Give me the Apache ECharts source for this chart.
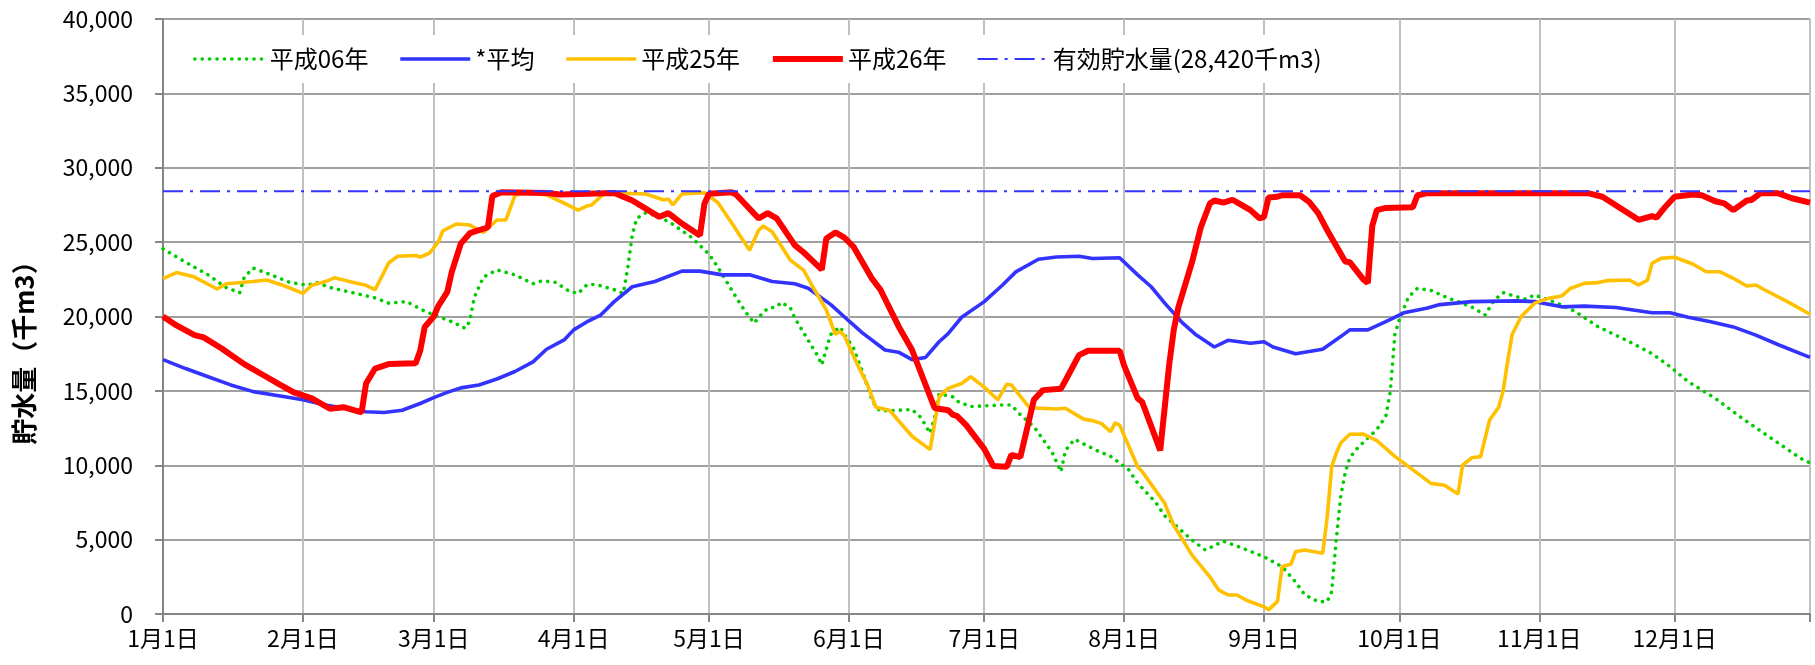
<!DOCTYPE html>
<html>
<head>
<meta charset="utf-8">
<script src="https://cdn.jsdelivr.net/npm/echarts@6/dist/echarts.min.js"></script>
<style>
  html, body { margin: 0; padding: 0; background: #fff; }
  #chart { width: 1815px; height: 665px; }
</style>
</head>
<body>
<div id="chart"></div>
<script>
// ========== 貯水量グラフ ==========
// x軸: 1/1〜12/31 (うるう年の暦, 366日)。データの x は 1/1 を 0 とした日番号
const monthDays = [31, 29, 31, 30, 31, 30, 31, 31, 30, 31, 30, 31];
const dayLabels = [];
monthDays.forEach((n, m) => { for (let d = 1; d <= n; d++) dayLabels.push((m + 1) + '/' + d); });

const yTicks = { min: 0, max: 40000, step: 5000 };
const capacity = 28420;
const names = ['平成06年', '*平均', '平成25年', '平成26年', '有効貯水量(28,420千m3)'];

// 平成06年
const h06 = [[0,24550],[5,23650],[10,22800],[14,21950],[17,21600],[18,22650],[20,23250],[24,22800],[28,22300],[32,22100],
  [34,22280],[37,21950],[42,21600],[47,21250],[50,20900],[54,21000],[58,20350],[64,19650],[67,19200],[68,19700],
  [69,21300],[71,22650],[74,23130],[78,22800],[82,22200],[84,22400],[87,22300],[90,21700],[92,21550],[94,22150],
  [96,22150],[100,21800],[102,21550],[103,23300],[104,25500],[105,26600],[107,26980],[110,26700],[113,26200],[117,25350],
  [121,24200],[123,23300],[125,22300],[127,21300],[129,20350],[131,19550],[132,19950],[134,20550],[136,20650],[137,20950],
  [139,20600],[140,19900],[142,18900],[145,17400],[146,16750],[147,17800],[148,18800],[150,19300],[151,18800],[153,17900],
  [155,16300],[157,14500],[158,13900],[159,13650],[163,13700],[166,13750],[168,13200],[170,12150],[171,13200],[172,14800],
  [175,14600],[176,14300],[179,13950],[186,14050],[188,14050],[190,13400],[193,12600],[197,10900],[199,9570],[200,11000],
  [202,11750],[207,10980],[210,10600],[214,9700],[216,8800],[220,7500],[222,6600],[225,5800],[228,4980],[231,4300],
  [235,4900],[239,4450],[244,3850],[248,3180],[251,2150],[253,1300],[256,830],[258,830],[259,1500],[260,5000],
  [261,7900],[262,9500],[263,10500],[265,11250],[269,12400],[271,13300],[272,15000],[273,18800],[274,19800],[276,21300],
  [278,21900],[281,21750],[285,21220],[290,20650],[293,20100],[295,21100],[297,21600],[300,21330],[302,21160],[304,21450],
  [305,21330],[309,20900],[313,20330],[318,19320],[325,18300],[330,17500],[334,16630],[338,15620],[344,14500],[350,13150],
  [363,10450],[365,10150]];

// *平均
const avg = [[0,17100],[5,16500],[10,15950],[15,15400],[20,14950],[27,14600],[31,14400],[36,14050],[45,13600],[49,13550],
  [53,13700],[57,14150],[60,14550],[63,14900],[66,15200],[70,15400],[74,15800],[78,16300],[82,16950],[85,17800],
  [89,18450],[91,19100],[94,19650],[97,20100],[100,21000],[104,22000],[109,22350],[115,23050],[119,23050],[124,22800],
  [130,22800],[135,22350],[140,22200],[143,21900],[148,20800],[152,19700],[155,18900],[160,17750],[163,17600],[166,17100],
  [169,17250],[172,18300],[174,18850],[177,19950],[182,21000],[186,22100],[189,23000],[194,23850],[198,24000],[203,24050],
  [206,23900],[212,23950],[216,22800],[219,22000],[222,20900],[226,19550],[229,18750],[233,17950],[236,18400],[241,18200],
  [244,18300],[246,17950],[251,17500],[257,17800],[261,18650],[263,19100],[267,19100],[271,19650],[275,20250],[280,20550],
  [283,20800],[290,21000],[300,21050],[304,21000],[310,20650],[315,20700],[322,20600],[330,20250],[334,20250],[338,19950],
  [343,19650],[348,19300],[353,18750],[358,18100],[365,17250]];

// 平成25年
const h25 = [[0,22550],[3,22950],[7,22650],[12,21850],[14,22200],[20,22350],[23,22450],[27,22050],[31,21550],[33,22100],
  [36,22350],[38,22600],[42,22300],[45,22100],[47,21800],[50,23600],[52,24050],[56,24100],[57,24000],[59,24250],
  [61,25000],[62,25750],[65,26220],[68,26150],[71,25650],[74,26490],[76,26490],[78,28150],[81,28330],[85,28170],
  [89,27600],[92,27150],[94,27430],[95,27500],[97,28050],[98,28330],[107,28240],[111,27830],[112,27900],[113,27500],
  [115,28240],[120,28330],[123,27650],[126,26300],[130,24450],[132,25800],[133,26080],[135,25700],[139,23800],[142,23100],
  [144,22000],[147,20450],[149,18800],[150,19000],[151,18700],[154,16700],[156,15500],[158,13900],[161,13700],[166,11950],
  [170,11050],[172,14600],[174,15170],[177,15500],[179,15950],[182,15250],[185,14400],[187,15450],[188,15400],[192,13870],
  [198,13780],[200,13830],[204,13100],[206,13000],[208,12800],[210,12250],[211,12850],[212,12700],[216,9900],[217,9570],
  [222,7440],[224,5950],[226,4980],[228,3970],[232,2500],[234,1600],[236,1280],[238,1280],[240,940],[244,480],
  [245,280],[247,850],[248,3180],[250,3360],[251,4190],[253,4300],[257,4080],[258,6500],[259,9900],[260,10800],
  [261,11500],[263,12080],[266,12100],[269,11650],[273,10600],[281,8780],[284,8650],[287,8070],[288,10000],[290,10500],
  [292,10580],[294,13040],[296,13900],[297,15000],[298,17000],[299,18800],[301,20000],[304,20900],[307,21220],[310,21380],
  [312,21900],[315,22230],[318,22280],[320,22410],[325,22450],[327,22120],[329,22450],[330,23580],[332,23910],[335,23980],
  [339,23530],[342,23010],[345,23010],[348,22570],[351,22050],[353,22120],[355,21780],[360,21000],[365,20150]];

// 平成26年
const h26 = [[0,20000],[3,19400],[7,18750],[9,18600],[13,17850],[18,16800],[22,16100],[26,15400],[29,14900],[33,14500],
  [37,13800],[40,13900],[44,13550],[45,15500],[47,16500],[50,16800],[56,16850],[57,17700],[58,19300],[60,20000],
  [61,20700],[63,21650],[64,23000],[66,24900],[68,25600],[71,25900],[72,26000],[73,28100],[75,28350],[85,28300],
  [88,28200],[100,28300],[104,27800],[110,26700],[112,26950],[115,26250],[119,25450],[120,27600],[121,28250],[126,28350],
  [127,28200],[132,26600],[134,26950],[136,26600],[140,24800],[142,24300],[146,23150],[147,25250],[149,25650],[151,25300],
  [153,24700],[157,22600],[159,21800],[163,19350],[166,17750],[171,13850],[174,13700],[175,13400],[176,13300],[178,12700],
  [182,11100],[184,9950],[187,9900],[188,10700],[190,10550],[193,14400],[195,15050],[199,15150],[200,15700],[203,17400],
  [205,17700],[212,17700],[213,16700],[216,14500],[217,14250],[221,11000],[223,16800],[224,19100],[225,20600],[228,23600],
  [230,26000],[232,27600],[233,27800],[235,27650],[237,27850],[239,27500],[241,27150],[243,26600],[244,26700],[245,28000],
  [247,28050],[248,28150],[252,28150],[254,27700],[256,26950],[258,25800],[262,23700],[263,23650],[266,22500],[267,22250],
  [268,26100],[269,27150],[271,27300],[277,27350],[278,28150],[280,28280],[316,28280],[319,28050],[327,26500],[330,26750],
  [331,26650],[333,27400],[335,28050],[339,28200],[341,28150],[344,27750],[346,27600],[348,27150],[351,27800],[352,27830],
  [354,28280],[358,28280],[361,27950],[365,27650]];

const capLine = [[0, capacity], [dayLabels.length - 1, capacity]];

const FONT = '"Noto Sans CJK JP", "Noto Sans", sans-serif';
const isMonthStart = (i, v) => v.endsWith('/1');
const isGridDay = (i, v) => isMonthStart(i, v) || i === dayLabels.length - 1;

const chart = echarts.init(document.getElementById('chart'));
chart.setOption({
  backgroundColor: '#fff',
  animation: false,
  textStyle: { fontFamily: FONT },
  grid: { left: 163, right: 5, top: 19, bottom: 51, outerBoundsMode: 'none' },
  legend: {
    data: names,
    left: 183, top: 35,
    padding: [12, 10],
    backgroundColor: '#fff',
    itemWidth: 70, itemHeight: 14, itemGap: 30,
    itemStyle: { color: 'rgba(0,0,0,0)', borderWidth: 0 },
    lineStyle: { width: 'inherit' },
    textStyle: { fontFamily: FONT, fontSize: 24, color: '#000' }
  },
  xAxis: {
    type: 'category', data: dayLabels, boundaryGap: false,
    axisLine: { lineStyle: { color: '#868686', width: 2 } },
    axisTick: { interval: isGridDay, length: 8, lineStyle: { color: '#868686', width: 2 } },
    axisLabel: { interval: isMonthStart, margin: 13, color: '#000', fontSize: 23, fontFamily: FONT,
                 formatter: v => v.replace('/', '月') + '日' },
    splitLine: { show: true, interval: isGridDay, lineStyle: { color: '#c0c0c0', width: 2 } }
  },
  yAxis: {
    type: 'value', min: yTicks.min, max: yTicks.max, interval: yTicks.step,
    name: '貯水量（千m3）', nameLocation: 'middle', nameGap: 126,
    nameTextStyle: { fontFamily: FONT, fontSize: 26, fontWeight: 'bold', color: '#000', padding: [0, 60, 0, 0] },
    axisLine: { show: true, lineStyle: { color: '#868686', width: 2 } },
    axisTick: { show: true, length: 8, lineStyle: { color: '#868686', width: 2 } },
    axisLabel: { margin: 30, color: '#000', fontSize: 23, fontFamily: FONT,
                 formatter: v => v.toLocaleString('en-US') },
    splitLine: { lineStyle: { color: '#a0a0a0', width: 2 } }
  },
  series: [
    { name: names[0], type: 'line', data: h06, symbol: 'none', z: 2,
      lineStyle: { color: '#00cc00', width: 3.6, type: [0.1, 7.3], cap: 'round' }, itemStyle: { color: '#00cc00' } },
    { name: names[1], type: 'line', data: avg, symbol: 'none', z: 3,
      lineStyle: { color: '#3333ff', width: 3.6 }, itemStyle: { color: '#3333ff' } },
    { name: names[2], type: 'line', data: h25, symbol: 'none', z: 4,
      lineStyle: { color: '#ffc000', width: 3.6 }, itemStyle: { color: '#ffc000' } },
    { name: names[3], type: 'line', data: h26, symbol: 'none', z: 5,
      lineStyle: { color: '#ff0000', width: 6 }, itemStyle: { color: '#ff0000' } },
    { name: names[4], type: 'line', data: capLine, symbol: 'none', z: 6,
      lineStyle: { color: '#3333ff', width: 2.2, type: [20, 7, 3, 7] }, itemStyle: { color: '#3333ff' } }
  ]
});
</script>
</body>
</html>
